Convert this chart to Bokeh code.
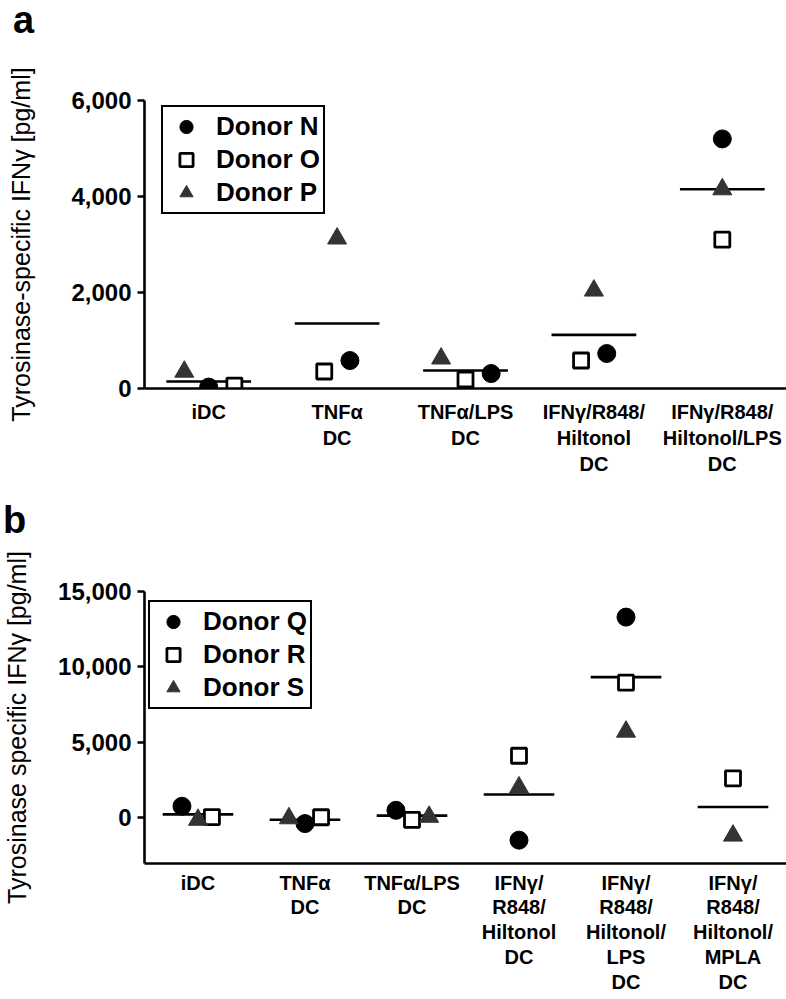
import numpy as np
from bokeh.plotting import figure
from bokeh.models import Range1d, FixedTicker, NumeralTickFormatter, Legend, LegendItem, ColumnDataSource, Div
from bokeh.layouts import column
from bokeh.embed import file_html
from bokeh.resources import INLINE

# ---------------- data ----------------
cats_a = ["iDC", "TNF\u03b1\nDC", "TNF\u03b1/LPS\nDC", "IFN\u03b3/R848/\nHiltonol\nDC",
          "IFN\u03b3/R848/\nHiltonol/LPS\nDC"]
donor_n = [30, 583, 312, 729, 5200]
donor_o = [60, 354, 188, 583, 3100]
donor_p = [350, 3125, 625, 2040, 4150]

cats_b = ["iDC", "TNF\u03b1\nDC", "TNF\u03b1/LPS\nDC", "IFN\u03b3/\nR848/\nHiltonol\nDC",
          "IFN\u03b3/\nR848/\nHiltonol/\nLPS\nDC", "IFN\u03b3/\nR848/\nHiltonol/\nMPLA\nDC"]
donor_q = [750, -400, 480, -1500, 13300, float("nan")]
donor_r = [30, 20, -150, 4100, 8950, 2600]
donor_s = [-150, -50, 50, 2000, 5700, -1200]

ticks_a = [0, 2000, 4000, 6000]
ticks_b = [0, 5000, 10000, 15000]

# horizontal scatter offsets (layout only, in category widths)
jit_a = {"N": [0, 0.1, 0.2, 0.1, 0], "O": [0.2, -0.1, 0, -0.1, 0], "P": [-0.19, 0, -0.19, 0, 0]}
jit_b = {"Q": [-0.15, 0, -0.15, 0, 0, 0], "R": [0.13, 0.15, 0, 0, 0, 0], "S": [0, -0.15, 0.16, 0, 0, 0]}

FONT = "Liberation Sans"
W = 786
LEFT = 134


def letter_div(letter, h, lx):
    html = ('<div style="font-family:\'Liberation Sans\',Arial,sans-serif;font-weight:bold;'
            'font-size:38px;line-height:%dpx;height:%dpx;padding-left:%dpx;color:#000;margin:0">%s</div>'
            % (h, h, lx, letter))
    return Div(text=html, width=W, height=h, margin=0)


def make_panel(cats, series, jit, yr, ticks, ylabel, height, b_top, b_bottom,
               label_standoff, leg_x, leg_top, x_standoff, x_lh):
    n = len(cats)
    frame_h = height - b_top - b_bottom
    p = figure(width=W, height=height, output_backend="svg", toolbar_location=None,
               x_range=Range1d(0, n), y_range=Range1d(*yr),
               min_border_top=b_top, min_border_bottom=b_bottom, min_border_left=LEFT,
               min_border_right=0)
    p.outline_line_color = None
    p.grid.visible = False
    p.background_fill_color = "white"
    p.border_fill_color = "white"

    xc = np.arange(n) + 0.5
    styles = {
        "circle": dict(marker="circle", size=18, fill_color="black", line_color="black", line_width=1),
        "square": dict(marker="square", size=15, fill_color="white", line_color="black", line_width=2.8),
        "triangle": dict(marker="triangle", size=19, fill_color="#333333", line_color="#333333", line_width=1),
    }
    vals = np.array([s[1] for s in series], dtype=float)
    means = np.nanmean(vals, axis=0)
    p.segment(x0=xc - 0.33, x1=xc + 0.33, y0=means, y1=means, line_color="black", line_width=2.6)

    items = []
    for (name, v, mk, key) in series:
        src = ColumnDataSource(dict(x=xc + np.array(jit[key]), y=np.array(v, dtype=float)))
        r = p.scatter("x", "y", source=src, **styles[mk])
        items.append(LegendItem(label=name, renderers=[r]))

    pad = 3
    gh = 33
    leg_h = 2 * pad + 3 * gh
    leg = Legend(items=items, location=(leg_x, frame_h - leg_top - leg_h),
                 glyph_width=40, glyph_height=gh, spacing=0, padding=pad, margin=0,
                 label_standoff=10, label_height=gh, label_text_font=FONT, label_text_font_style="bold",
                 label_text_font_size="26px", label_text_color="black",
                 border_line_color="black", border_line_alpha=1.0, border_line_width=2.5,
                 background_fill_color="white", background_fill_alpha=1)
    p.add_layout(leg)

    # axes
    xa = p.xaxis[0]
    xa.ticker = FixedTicker(ticks=list(xc))
    xa.major_label_overrides = {float(x): c for x, c in zip(xc, cats)}
    xa.major_tick_out = 0
    xa.major_tick_in = 0
    xa.minor_tick_out = 0
    xa.minor_tick_in = 0
    xa.axis_line_width = 2.6
    xa.axis_line_color = "black"
    xa.major_label_text_font = FONT
    xa.major_label_text_font_style = "bold"
    xa.major_label_text_font_size = "20px"
    xa.major_label_text_line_height = x_lh
    xa.major_label_text_color = "black"
    xa.major_label_standoff = x_standoff

    ya = p.yaxis[0]
    ya.ticker = FixedTicker(ticks=ticks)
    ya.formatter = NumeralTickFormatter(format="0,0")
    ya.major_tick_out = 7
    ya.major_tick_in = 0
    ya.major_tick_line_width = 2.4
    ya.minor_tick_out = 0
    ya.minor_tick_in = 0
    ya.axis_line_width = 2.6
    ya.axis_line_color = "black"
    ya.major_label_text_font = FONT
    ya.major_label_text_font_style = "bold"
    ya.major_label_text_font_size = "24px"
    ya.major_label_text_color = "black"
    ya.major_label_standoff = 6
    ya.axis_label = ylabel
    ya.axis_label_text_font = FONT
    ya.axis_label_text_font_style = "normal"
    ya.axis_label_text_font_size = "25px"
    ya.axis_label_text_color = "black"
    ya.axis_label_standoff = label_standoff
    return p


la = letter_div("a", 40, 13)
pa = make_panel(cats_a,
                [("Donor N", donor_n, "circle", "N"), ("Donor O", donor_o, "square", "O"),
                 ("Donor P", donor_p, "triangle", "P")],
                jit_a, (0, 6000), ticks_a, "Tyrosinase-specific IFN\u03b3 [pg/ml]",
                height=460, b_top=60, b_bottom=112, label_standoff=33,
                leg_x=17, leg_top=9, x_standoff=12, x_lh=1.2)

lb = letter_div("b", 40, 3)
pb = make_panel(cats_b,
                [("Donor Q", donor_q, "circle", "Q"), ("Donor R", donor_r, "square", "R"),
                 ("Donor S", donor_s, "triangle", "S")],
                jit_b, (-3050, 15000), ticks_b, "Tyrosinase specific IFN\u03b3 [pg/ml]",
                height=459, b_top=51, b_bottom=136, label_standoff=24,
                leg_x=4, leg_top=13, x_standoff=8, x_lh=1.13)

layout = column(la, pa, lb, pb, spacing=0)
open("out.html", "w").write(file_html(layout, INLINE))
